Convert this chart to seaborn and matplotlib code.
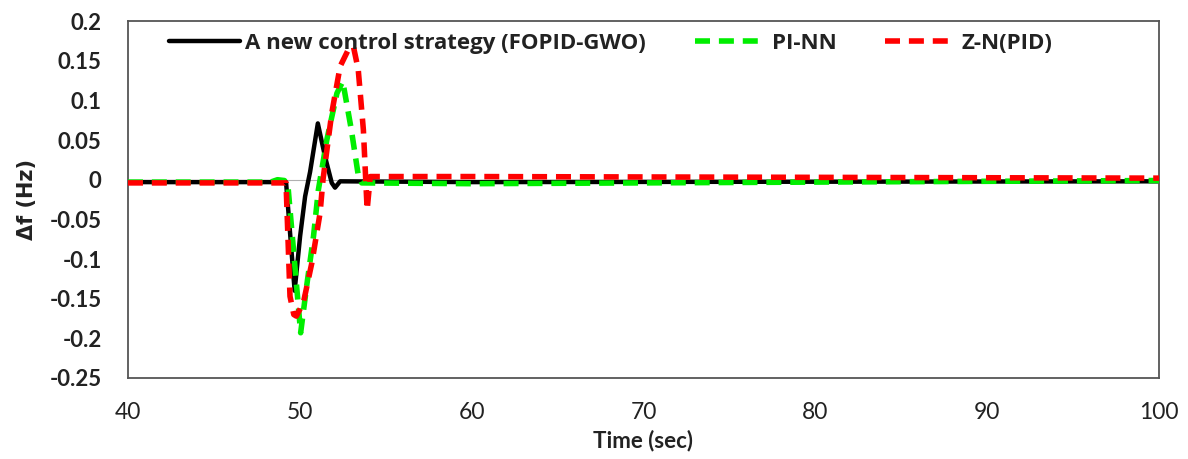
import numpy as np
import pandas as pd
import matplotlib
matplotlib.use("Agg")
import matplotlib.pyplot as plt
import seaborn as sns

# Frequency deviation response of the three controllers
t_fopid = [40, 49.2, 49.7, 50.02, 50.31, 50.6, 51.05, 51.47, 51.86, 52.05, 52.35, 60, 100]
f_fopid = [-0.003, -0.003, -0.14, -0.071, -0.021, 0.01, 0.071, 0.029, -0.004, -0.01, -0.002, -0.003, -0.002]

t_pinn = [40, 48.3, 48.7, 49.1, 49.3, 50.05, 50.4, 50.8, 51.08, 51.57, 52.16, 52.5, 53.0, 53.4, 53.6, 60, 80, 100]
f_pinn = [-0.003, -0.003, 0.0, -0.001, -0.005, -0.193, -0.134, -0.071, -0.013, 0.05, 0.109, 0.124, 0.063, 0.006, -0.004, -0.005, -0.003, -0.001]

t_zn = [40, 49.2, 49.43, 49.65, 49.8, 50.21, 50.7, 51.18, 51.35, 51.86, 52.35, 52.8, 53.12, 53.4, 53.7, 53.92, 54.1, 60, 100]
f_zn = [-0.004, -0.004, -0.147, -0.17, -0.172, -0.155, -0.105, -0.042, 0.0, 0.084, 0.143, 0.163, 0.168, 0.139, 0.063, -0.038, 0.004, 0.004, 0.002]

labels = ["A new control strategy (FOPID-GWO)", "PI-NN", "Z-N(PID)"]
x_ticks = [40, 50, 60, 70, 80, 90, 100]
y_ticks = [0.2, 0.15, 0.1, 0.05, 0, -0.05, -0.1, -0.15, -0.2, -0.25]
y_tick_labels = ["0.2", "0.15", "0.1", "0.05", "0", "-0.05", "-0.1", "-0.15", "-0.2", "-0.25"]

sns.set_theme(style="white")
plt.rcParams["font.family"] = ["Lato", "DejaVu Sans"]

fig = plt.figure(figsize=(11.88, 4.59), dpi=100)
ax = fig.add_axes([0.1077, 0.1765, 0.8679, 0.7775])

series = [
    (t_fopid, f_fopid, labels[0], "#000000", 3.2, "-"),
    (t_pinn, f_pinn, labels[1], "#00ee00", 4.0, (0, (2.7, 1.6))),
    (t_zn, f_zn, labels[2], "#ff0000", 4.0, (0, (2.7, 1.6))),
]

ax.axhline(0, color="#b0b0b0", lw=0.8, zorder=1)
for i, (t, f, lab, col, lw, ls) in enumerate(series):
    d = pd.DataFrame({"time": t, "df": f})
    sns.lineplot(data=d, x="time", y="df", ax=ax, color=col, linewidth=lw,
                 linestyle=ls, label=lab, estimator=None, sort=False, zorder=2 + i)

ax.set_xlim(40, 100)
ax.set_ylim(-0.25, 0.2)
ax.set_xticks(x_ticks)
ax.set_xticklabels([str(v) for v in x_ticks], fontsize=16.5)
ax.set_yticks(y_ticks)
ax.set_yticklabels(y_tick_labels, fontsize=16, fontweight="bold")
ax.tick_params(axis="both", length=0, colors="#222222")
ax.tick_params(axis="y", pad=19)
ax.tick_params(axis="x", pad=17)

ax.set_xlabel("Time (sec)", fontsize=16, fontweight="bold", color="#222222", labelpad=5)
ax.set_ylabel("Δf (Hz)", fontsize=15, fontweight="bold", color="#222222", labelpad=9,
              family=["DejaVu Sans"])

for s in ax.spines.values():
    s.set_visible(True)
    s.set_color("#555555")
    s.set_linewidth(1.3)

leg = ax.legend(loc="upper left", bbox_to_anchor=(0.02, 1.022), ncol=3, frameon=False,
                handlelength=3.2, handletextpad=0.25, columnspacing=2.2,
                prop={"family": ["Open Sans", "DejaVu Sans"], "weight": "bold", "size": 16})
for txt in leg.get_texts():
    txt.set_color("#222222")

fig.savefig("out.png", dpi=100, facecolor="white")
